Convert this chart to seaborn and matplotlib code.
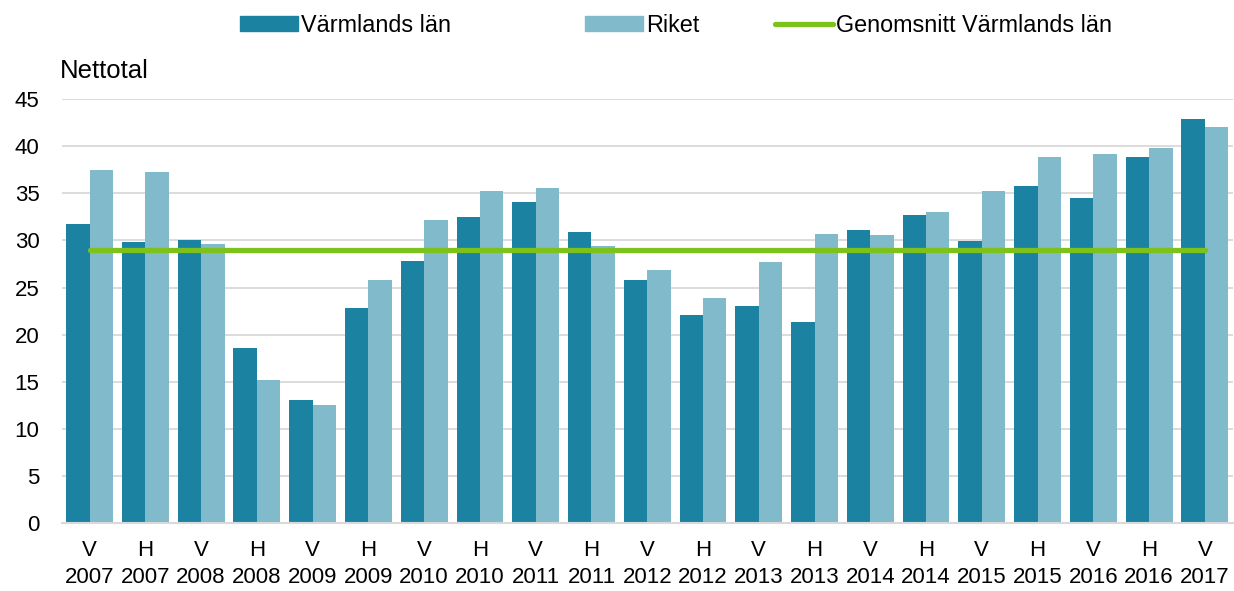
import numpy as np
import pandas as pd
import seaborn as sns
import matplotlib.pyplot as plt
from matplotlib.patches import Patch
from matplotlib.lines import Line2D

halfyear = ["V", "H", "V", "H", "V", "H", "V", "H", "V", "H", "V",
            "H", "V", "H", "V", "H", "V", "H", "V", "H", "V"]
years = ["2007", "2007", "2008", "2008", "2009", "2009", "2010", "2010", "2011", "2011", "2012",
         "2012", "2013", "2013", "2014", "2014", "2015", "2015", "2016", "2016", "2017"]
varmland = [31.7, 29.8, 30.0, 18.6, 13.1, 22.8, 27.8, 32.5, 34.1, 30.9, 25.8,
            22.1, 23.1, 21.3, 31.1, 32.7, 29.9, 35.8, 34.5, 38.8, 42.9]
riket = [37.5, 37.3, 29.6, 15.2, 12.6, 25.8, 32.2, 35.2, 35.6, 29.4, 26.9,
         23.9, 27.7, 30.7, 30.6, 33.0, 35.2, 38.9, 39.2, 39.8, 42.0]
snitt_varmland = 29.0

labels = [h + "\n" + y for h, y in zip(halfyear, years)]
df = pd.DataFrame({
    "period": labels * 2,
    "serie": ["Värmlands län"] * len(labels) + ["Riket"] * len(labels),
    "nettotal": varmland + riket,
})

dark = "#1B83A1"
light = "#81BACB"
green = "#7DC21B"
grid = "#D9D9D9"

sns.set_theme(style="white")
plt.rcParams["font.family"] = ["Liberation Sans", "DejaVu Sans"]
plt.rcParams["text.color"] = "black"

fig = plt.figure(figsize=(12.34, 5.91), dpi=100)
ax = fig.add_axes([0.050, 0.1145, 0.949, 0.718])

sns.barplot(data=df, x="period", y="nettotal", hue="serie", order=labels,
            palette={"Värmlands län": dark, "Riket": light},
            width=0.84, gap=0, saturation=1, linewidth=0, legend=False, ax=ax)

pos = np.arange(len(labels))
ax.plot(pos, [snitt_varmland] * len(labels), color=green, lw=3.8,
        solid_capstyle="round", zorder=5)

ax.set_ylim(0, 45)
ax.set_xlim(-0.5, len(labels) - 0.5)
ax.set_yticks(range(0, 46, 5))
ax.yaxis.grid(True, color=grid, lw=1.3)
ax.set_axisbelow(True)
for s in ["left", "right", "top"]:
    ax.spines[s].set_visible(False)
ax.spines["bottom"].set_color(grid)
ax.spines["bottom"].set_linewidth(1.5)
ax.tick_params(axis="both", length=0, labelsize=16, colors="black")
ax.tick_params(axis="y", pad=16)
ax.tick_params(axis="x", pad=12)
for t in ax.get_xticklabels():
    t.set_linespacing(1.4)
ax.set_xlabel("")
ax.set_ylabel("")

fig.text(60 / 1234, 1 - 71 / 591, "Nettotal", fontsize=18.5, va="center", ha="left")

# legend entries placed one by one, like the Excel original
entries = [
    (Patch(color=dark), "Värmlands län", 240),
    (Patch(color=light), "Riket", 585),
    (Line2D([], [], color=green, lw=3.8), "Genomsnitt Värmlands län", 775),
]
for handle, text, x0 in entries:
    fig.legend([handle], [text], loc="center left",
               bbox_to_anchor=(x0 / 1234, 1 - 25 / 591), frameon=False,
               fontsize=16.8, handlelength=2.5, handletextpad=0.1,
               handleheight=0.65, borderpad=0, borderaxespad=0)

fig.savefig("out.png", dpi=100)
